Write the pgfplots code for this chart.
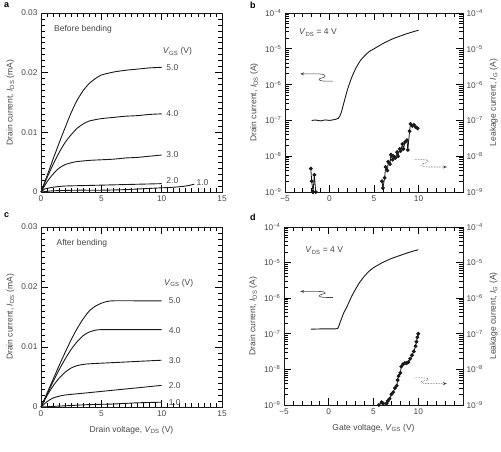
\documentclass[border=0pt]{standalone}
\usepackage{fontspec}
\setmainfont{Liberation Sans}
\usepackage{pgfplots}
\pgfplotsset{compat=1.18}
\usetikzlibrary{arrows.meta}
\definecolor{txt}{gray}{0.28}
\definecolor{lncol}{gray}{0.10}
\newcommand{\tf}{\fontsize{8.3}{10}\selectfont}
\newcommand{\lf}{\fontsize{8.5}{10}\selectfont}
\tikzset{clab/.style={anchor=west, font=\lf, text=txt, inner sep=1pt}}
\pgfplotsset{
 myPanel/.style={scale only axis, anchor=south west, tick align=inside, clip=false,
   axis line style={draw=lncol, line width=0.7pt},
   tick style={draw=lncol, line width=0.7pt},
   major tick length=7pt, minor tick length=4pt,
   tick label style={font=\tf, text=txt},
   label style={font=\lf, text=txt},
   xlabel style={yshift=-3pt},
   scaled ticks=false},
 myLin/.style={myPanel, xmin=0, xmax=15, ymin=0, ymax=0.03,
   xtick={0,5,10,15}, xticklabels={0,5,10,15},
   ytick={0,0.01,0.02,0.03}, yticklabels={0,0.01,0.02,0.03},
   minor x tick num=9, minor y tick num=9,
   ylabel={Drain current, \textit{I}\textsubscript{DS} (mA)}},
 myLog/.style={myPanel, xmin=-5, xmax=15, ymin=1e-9, ymax=1e-4,
   xtick={-5,0,5,10,15}, xticklabels={−5,0,5,10,{}}, minor x tick num=4,
   ytick={1e-9,1e-8,1e-7,1e-6,1e-5,1e-4},
   yticklabels={10\textsuperscript{−9},10\textsuperscript{−8},10\textsuperscript{−7},10\textsuperscript{−6},10\textsuperscript{−5},10\textsuperscript{−4}},
   minor ytick={2e-9,3e-9,4e-9,5e-9,6e-9,7e-9,8e-9,9e-9,2e-8,3e-8,4e-8,5e-8,6e-8,7e-8,8e-8,9e-8,2e-7,3e-7,4e-7,5e-7,6e-7,7e-7,8e-7,9e-7,2e-6,3e-6,4e-6,5e-6,6e-6,7e-6,8e-6,9e-6,2e-5,3e-5,4e-5,5e-5,6e-5,7e-5,8e-5,9e-5}},
 myCurve/.style={draw=lncol, line width=0.9pt, smooth, tension=0.4},
 myLeak/.style={draw=lncol, line width=0.8pt, mark=*, mark size=1.5pt, mark options={fill=lncol, draw=lncol}},
}
\begin{document}
\begin{tikzpicture}
\useasboundingbox (0,0) rectangle (501pt,451pt);
\node[anchor=north west, font=\bfseries\fontsize{9}{10}\selectfont, inner sep=0pt] at (4pt,449pt) {a};
\node[anchor=north west, font=\bfseries\fontsize{9}{10}\selectfont, inner sep=0pt] at (250pt,449pt) {b};
\node[anchor=north west, font=\bfseries\fontsize{9}{10}\selectfont, inner sep=0pt] at (4pt,239pt) {c};
\node[anchor=north west, font=\bfseries\fontsize{9}{10}\selectfont, inner sep=0pt] at (250pt,237pt) {d};

% ---------- a ----------
\begin{axis}[myLin, at={(41pt,259pt)}, width=181pt, height=179pt, tick style={draw=black, line width=0.7pt}]
\addplot[myCurve] coordinates {(0,0) (0.5,0.0027) (1,0.0055) (1.5,0.0082) (2,0.0108) (2.5,0.0133) (3,0.0154) (3.5,0.0170) (4,0.0182) (4.5,0.0190) (5,0.0196) (6,0.0201) (7,0.0204) (8,0.0206) (9,0.0208) (10,0.0209)};
\addplot[myCurve] coordinates {(0,0) (0.5,0.0024) (1,0.0046) (1.5,0.0066) (2,0.0083) (2.5,0.0096) (3,0.0107) (3.5,0.0114) (4,0.0119) (5,0.0123) (6,0.0125) (7,0.0127) (8,0.0128) (9,0.0130) (10,0.0131)};
\addplot[myCurve] coordinates {(0,0) (0.5,0.0017) (1,0.0030) (1.5,0.0040) (2,0.0046) (2.5,0.0049) (3,0.0051) (4,0.0053) (5,0.0054) (6,0.0055) (7,0.0057) (8,0.0058) (9,0.0060) (10,0.0062)};
\addplot[myCurve] coordinates {(0,0) (0.3,0.0005) (1,0.0008) (2,0.0010) (4,0.0011) (6,0.0012) (8,0.0013) (10,0.0014)};
\addplot[myCurve] coordinates {(0,0) (1,0.0002) (3,0.0003) (5,0.0003) (7,0.0004) (8,0.0005) (9,0.0006) (10,0.0007) (11,0.0008) (12,0.0010) (12.7,0.0013)};
\node[anchor=north west, font=\lf, text=txt] at (axis cs:0.8,0.0285) {Before bending};
\node[clab] at (axis cs:10.0,0.0235) {\textit{V}\textsubscript{GS} (V)};
\node[clab] at (axis cs:10.3,0.0209) {5.0};
\node[clab] at (axis cs:10.3,0.0131) {4.0};
\node[clab] at (axis cs:10.3,0.0062) {3.0};
\node[clab] at (axis cs:10.3,0.0019) {2.0};
\node[clab] at (axis cs:12.8,0.0016) {1.0};
\end{axis}

% ---------- b ----------
\begin{axis}[myLog, ymode=log, at={(285pt,259pt)}, width=178pt, height=179pt, tick style={draw=black, line width=0.7pt},
  ylabel={Drain current, \textit{I}\textsubscript{DS} (A)}]
\addplot[myCurve] coordinates {(-2,1.0e-7) (-1.5,1.02e-7) (-1,0.97e-7) (-0.5,1.03e-7) (0,1.0e-7) (0.5,1.05e-7) (1,1.15e-7) (1.3,1.6e-7) (1.6,3e-7) (2.0,7e-7) (2.5,1.6e-6) (3,3e-6) (3.5,4.8e-6) (4,6.6e-6) (4.5,8.5e-6) (5,1.0e-5) (6,1.4e-5) (7,1.85e-5) (8,2.3e-5) (9,2.8e-5) (10,3.3e-5)};
\addplot[myLeak] coordinates {(-2.1,4.5e-9) (-2.0,2e-9) (-1.85,1e-9)};
\addplot[myLeak] coordinates {(-1.85,1e-9) (-1.7,3e-9) (-1.55,1e-9)};
\addplot[myLeak] coordinates {(5.9,2e-9) (6.0,1.3e-9) (6.2,2.5e-9) (6.3,5e-9) (6.5,4e-9) (6.6,7e-9) (6.8,6e-9) (6.9,1.1e-8) (7.1,8e-9) (7.2,1e-8) (7.4,9e-9) (7.6,1.3e-8) (7.7,1e-8) (7.9,1.6e-8) (8.0,1.4e-8) (8.2,2.2e-8) (8.3,1.6e-8) (8.5,2.5e-8) (8.7,2.8e-8) (8.8,1.5e-8) (9.0,5e-8) (9.1,8e-8) (9.3,7e-8) (9.5,7.5e-8) (9.7,6.5e-8) (9.9,6e-8)};
\node[anchor=west, font=\lf, text=txt] at (axis cs:-3.8,2.8e-5) {\textit{V}\textsubscript{DS} = 4 V};
\draw[-{Stealth[length=4pt,width=3pt]}, txt, line width=0.6pt] (axis cs:0.4,1.25e-6) -- (axis cs:-0.4,1.25e-6) .. controls (axis cs:-1.3,1.25e-6) and (axis cs:-1.4,1.45e-6) .. (axis cs:-0.8,1.55e-6) .. controls (axis cs:-0.2,1.65e-6) and (axis cs:-0.5,2.0e-6) .. (axis cs:-1.2,2.0e-6) -- (axis cs:-3.3,2.0e-6);
\draw[-{Stealth[length=4pt,width=3pt]}, txt, line width=0.6pt, densely dotted] (axis cs:9.6,8e-9) -- (axis cs:10.5,8e-9) .. controls (axis cs:11.3,8e-9) and (axis cs:11.3,6.7e-9) .. (axis cs:10.7,6.4e-9) .. controls (axis cs:10.1,6.1e-9) and (axis cs:10.3,5e-9) .. (axis cs:11.1,5e-9) -- (axis cs:13.2,5e-9);
\end{axis}
\begin{axis}[myLog, ymode=log, at={(285pt,259pt)}, width=178pt, height=179pt, tick style={draw=black, line width=0.7pt},
  hide x axis, ytick pos=right, yticklabel pos=right,
  ylabel={Leakage current, \textit{I}\textsubscript{G} (A)}]
\end{axis}

% ---------- c ----------
\begin{axis}[myLin, at={(41pt,44pt)}, width=181pt, height=180pt, tick style={draw=black, line width=0.7pt},
  xlabel={Drain voltage, \textit{V}\textsubscript{DS} (V)}]
\addplot[myCurve] coordinates {(0,0) (0.5,0.0023) (1,0.0046) (1.5,0.0069) (2,0.0091) (2.5,0.0112) (3,0.0131) (3.5,0.0147) (4,0.0160) (4.5,0.0168) (5,0.0173) (5.5,0.0176) (6,0.0177) (8,0.0177) (10,0.0177)};
\addplot[myCurve] coordinates {(0,0) (0.5,0.0021) (1,0.0042) (1.5,0.0062) (2,0.0080) (2.5,0.0096) (3,0.0109) (3.5,0.0119) (4,0.0125) (4.5,0.0128) (5,0.0129) (7,0.0129) (10,0.0129)};
\addplot[myCurve] coordinates {(0,0) (0.5,0.0019) (1,0.0035) (1.5,0.0048) (2,0.0058) (2.5,0.0065) (3,0.0069) (3.5,0.0071) (4,0.0072) (6,0.0074) (8,0.0076) (10,0.0078)};
\addplot[myCurve] coordinates {(0,0) (0.5,0.0009) (1,0.0015) (1.5,0.0018) (2,0.0020) (3,0.0022) (4,0.0024) (6,0.0028) (8,0.0032) (10,0.0036)};
\addplot[myCurve] coordinates {(0,0) (1,0.0001) (2,0.0002) (4,0.0004) (6,0.0005) (8,0.0007) (10,0.0008)};
\node[anchor=north west, font=\lf, text=txt] at (axis cs:1.0,0.0285) {After bending};
\node[clab] at (axis cs:10.1,0.0207) {\textit{V}\textsubscript{GS} (V)};
\node[clab] at (axis cs:10.5,0.0177) {5.0};
\node[clab] at (axis cs:10.5,0.0128) {4.0};
\node[clab] at (axis cs:10.5,0.0078) {3.0};
\node[clab] at (axis cs:10.5,0.0036) {2.0};
\node[clab] at (axis cs:10.5,0.0008) {1.0};
\end{axis}

% ---------- d ----------
\begin{axis}[myLog, ymode=log, at={(284pt,46pt)}, width=179pt, height=178pt, tick style={draw=black, line width=0.7pt},
  ylabel={Drain current, \textit{I}\textsubscript{DS} (A)},
  xlabel={Gate voltage, \textit{V}\textsubscript{GS} (V)}]
\addplot[myCurve] coordinates {(-2,1.35e-7) (-1,1.37e-7) (0,1.38e-7) (0.5,1.38e-7) (1,1.42e-7) (1.3,2.2e-7) (1.7,4e-7) (2,5.5e-7) (2.5,1.05e-6) (3,1.8e-6) (3.5,2.9e-6) (4,4.2e-6) (4.5,5.7e-6) (5,7.2e-6) (6,1.0e-5) (7,1.3e-5) (8,1.6e-5) (9,1.95e-5) (10,2.3e-5)};
\addplot[myLeak] coordinates {(5.6,1e-9) (5.9,1.2e-9) (6.1,1.1e-9) (6.45,1.1e-9) (6.6,1.3e-9) (6.8,1.5e-9) (7.0,2e-9) (7.2,2.3e-9) (7.4,3e-9) (7.6,3.5e-9) (7.7,5e-9) (7.8,6.5e-9) (8.0,8e-9) (8.1,1.2e-8) (8.3,1.4e-8) (8.5,1.5e-8) (8.7,1.5e-8) (8.9,1.6e-8) (9.1,2e-8) (9.3,2.5e-8) (9.5,3.2e-8) (9.7,4.5e-8) (9.8,6e-8) (9.9,8e-8) (10,1e-7)};
\node[anchor=west, font=\lf, text=txt] at (axis cs:-3.0,2.2e-5) {\textit{V}\textsubscript{DS} = 4 V};
\draw[-{Stealth[length=4pt,width=3pt]}, txt, line width=0.6pt] (axis cs:0.5,1.05e-6) -- (axis cs:-0.3,1.05e-6) .. controls (axis cs:-1.2,1.05e-6) and (axis cs:-1.3,1.22e-6) .. (axis cs:-0.7,1.3e-6) .. controls (axis cs:-0.1,1.38e-6) and (axis cs:-0.4,1.55e-6) .. (axis cs:-1.1,1.55e-6) -- (axis cs:-3.2,1.55e-6);
\draw[-{Stealth[length=4pt,width=3pt]}, txt, line width=0.6pt, densely dotted] (axis cs:9.6,5.8e-9) -- (axis cs:10.5,5.8e-9) .. controls (axis cs:11.3,5.8e-9) and (axis cs:11.3,5.0e-9) .. (axis cs:10.7,4.8e-9) .. controls (axis cs:10.1,4.6e-9) and (axis cs:10.3,4e-9) .. (axis cs:11.1,4e-9) -- (axis cs:13.2,4e-9);
\end{axis}
\begin{axis}[myLog, ymode=log, at={(284pt,46pt)}, width=179pt, height=178pt, tick style={draw=black, line width=0.7pt},
  hide x axis, ytick pos=right, yticklabel pos=right,
  ylabel={Leakage current, \textit{I}\textsubscript{G} (A)}]
\end{axis}
\end{tikzpicture}
\end{document}
